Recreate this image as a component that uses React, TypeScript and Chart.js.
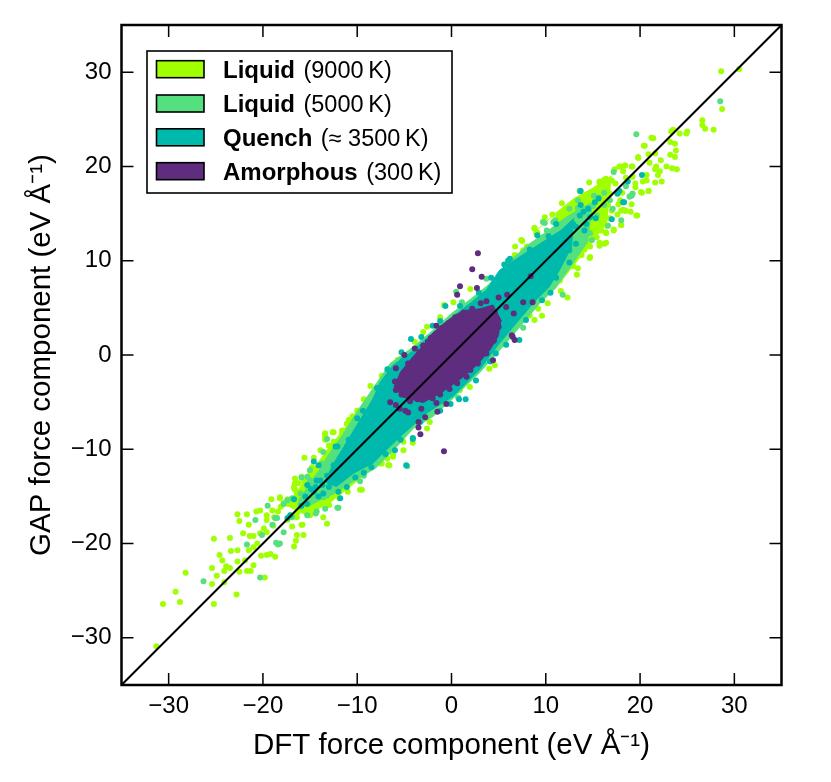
import { useEffect, useRef } from "react";
import { Chart, registerables } from "chart.js";

Chart.register(...registerables);

type P = [number, number];

const FONT = "'Liberation Sans', Arial, sans-serif";
const tickValues = [-30, -20, -10, 0, 10, 20, 30];
const xLabel = "DFT force component (eV Å⁻¹)";
const yLabel = "GAP force component (eV Å⁻¹)";
const legendBold = ["Liquid", "Liquid", "Quench", "Amorphous"];
const legendRest = ["(9000\u2009K)", "(5000\u2009K)", "(≈ 3500\u2009K)", "(300\u2009K)"];
const colors = ["#A0FF00", "#54E07F", "#00B9AD", "#5F2D7F"];

const diagonal: P[] = [[-35, -35], [35, 35]];

const limePoints: P[] = [
  [-31.3,-30.9],[-30.6,-26.4],[-29.26,-25.1],[-28.8,-26.2],[-28.2,-23.1],[-25.2,-26.4],[-25.2,-19.5],[-25.4,-22.6],[-25.4,-24.3],[-24.9,-23.4],
  [-24.6,-21.2],[-24.3,-21.8],[-24.1,-24.1],[-24.1,-22.9],[-23.9,-22.4],[-23.5,-22.6],[-23.4,-20.8],[-23.5,-19.4],[-22.8,-25.4],[-22.7,-16.9],
  [-22.7,-20.7],[-22.7,-21.9],[-22.5,-23],[-22.5,-17.6],[-22.1,-18.9],[-21.9,-21.8],[-21.7,-16.9],[-21.5,-18],[-21.7,-22.9],[-21.3,-22.9],
  [-21.4,-19.2],[-21,-19.2],[-20.7,-16.6],[-20.3,-16.5],[-21,-22.3],[-21.5,-20.7],[-21,-20.4],[-20.2,-21.3],[-19.6,-21.2],[-19.2,-21.1],
  [-18.7,-21.4],[-19.8,-23.6],[-19.9,-18.4],[-19.6,-18.8],[-19.6,-17],[-19.6,-17.5],[-19,-16.5],[-19.1,-15.3],[-18.8,-17.2],[-18.2,-15.1],
  [-17.8,-15.7],[-16.7,-20.3],[-16.5,-19.7],[-16.4,-19.1],[-15.7,-19.1],[-15.6,-10.9],[-18.9,-18.1],[-18.4,-16.6],[-20.3,-18.9],[-20.6,-20],
  [-13.4,-8.3],[-12.5,-8.2],[-11.1,-7.3],[-10,-5.9],[-13.9,-10.1],[-14.8,-11.9],[-16.6,-13.1],[-16.7,-14],[-16.2,-14.7],[-13.4,-8.7],
  [-12.5,-9.2],[-11.6,-8.3],[-9.7,-14.3],[-6.7,-11.7],[-7.5,-11.5],[-5.1,-10.1],[-6.2,-10.8],[-13.2,-17.9],[-13.6,-17.2],[-13,-15.9],
  [-15,-17],[-15.8,-18],[-16.9,-18.2],[-14.3,-16.1],[-17.4,-17.5],[-17.1,-17],[-18.1,-16.1],[-16.4,-16.8],[-15.3,-15.4],[-15.9,-12.9],
  [-15,-12.4],[-14.3,-12.2],[-16.6,-14.3],[-17.3,-15.8],[-16.2,-13.6],[-15.6,-13.4],[-14.6,-10.9],[-13,-9.6],[-10.5,-6.5],[-9.3,-4.7],
  [-8.6,-3.3],[-7.4,-2.2],[-6.4,-1.8],[-5.7,-0.5],[-3.9,1.4],[-3,2.45],[-2.6,3],[-1.2,4],[-0.8,5.3],[0.2,5.6],[2,7],
  [6.75,11.5],[6.7,10.6],[7.6,11.1],[7.5,12.1],[8.8,13.5],[9.1,13],[11.7,16.1],[9.6,4.15],[9.2,4.9],[10.2,5.5],[12.3,6.1],[11.6,6.8],
  [13.3,8.5],[13.4,9.2],[12.9,9.4],[14.65,10.3],[16.2,11.8],[14.7,11.5],[15.7,11.9],[17.2,13.2],[18,13.8],[19.6,14.8],[18.4,15.3],[16.4,13],
  [4.6,-1.1],[4,-1.45],[1.95,-3.4],[0.9,-3.7],[-2.3,-7.1],[-2.6,-7.8],[8.8,3.7],[8.3,4.2],[11.5,7.9],[14.6,18.3],[13.6,17.4],[15.1,16.9],
  [15.7,18.4],[15.5,17.4],[28.6,30.1],[30.5,30.3],[28.7,26.1],[26.6,24.9],[26.6,24.4],[26.9,24],[27.8,23.9],[25,23.7],[24.9,23.5],[24.2,23.5],
  [23.5,23.9],[23.3,23.7],[21.2,23.05],[21.4,23],[20.5,22.2],[23.2,22.6],[23.7,22.4],[23.8,21.7],[23.2,21.25],[23.7,21],[21.6,21.4],[20.9,21.3],
  [19.8,21],[21,20.4],[22.2,20.65],[21.7,20],[21.6,19.7],[22.1,19.5],[21.9,19.1],[22.8,20],[23.4,19.8],[23.9,19.7],[22.3,18.4],[21.6,18.3],
  [20.9,17.4],[20.2,17.2],[20.7,18.5],[20.3,18.4],[19.5,18.2],[19.2,18.9],[19.1,20],[18.4,20.1],[17.8,20],[17.3,19.7],[18.2,19.5],[16.9,18.5],
  [16.2,18.6],[15.7,18.3],[19.1,16],[18.2,15.4],[19.5,17.8],[18.5,18.8],[20.7,19.1],[17.4,18.2],[18.1,17.2],[16.8,17.1],[17,15.3],[17.9,16.4],
  [16.4,16.2],[16.8,14.5],[15.6,15],[17.6,14.9],[19,15.2],[14.6,16.8],[12.8,15.3],[14.3,12.2],[15.2,13.4],[13.8,10.6],[-9.8,-11.9],[-4.1,-9.3],
  [20.4,22.2],[19.8,20.9],[19.2,20],[18.4,20.1],[17.9,20],[15.8,18.3],[16.4,18.7],[17,18.5],[15.5,17.3],[16.2,17.5],[14.3,16.6],[14,16],
  [16.6,15.9],[17.7,16],[19.2,17.1],[20.1,17.3],[20.9,17.4],[18,15.3],[18.5,15.3],[19.7,14.8],[18,13.8],[17.2,13.3],[16.5,13.7],[16.4,12.9],
  [16.4,11.9],[15.7,11.6],[14.7,10.4],[8.8,13.4],[9,12.9],[7.4,12.2],[8,11.5],[15.7,14.6],[15.4,12.5],[14.8,13.6],[15.9,13.2],[14.1,11.2],
  [13.3,11.1],[12.4,10],[11.2,9.2],[10.1,7.8],[13,14.6],[12,15],[10.7,14.9],[9.9,14.6],[11.1,13.9],
  [-10.9,-6.9],[-11.6,-8],[-12.6,-8.2],[-13.4,-8.4],[-13.4,-9],[-12.9,-11.5],[-16.6,-13.6],[-16.7,-14.1],[-16.4,-14.7],[-18.2,-15.2],
  [-17.4,-15.3],[-9.5,-14.3],[-7.4,-11.5],[-6.6,-11.7],[-6.8,-11],[-6.2,-10.6],[-5.1,-9.2],[-13,-15.9],[-15,-16.8],[-15.9,-18],[-16.4,-17.2],
  [-14.4,-15.4],[-15.1,-14.5],[-14.1,-13.1],[-13.7,-12.3],[-12.6,-12.9],[-11.9,-15.2],[-11,-14.5],[-12.3,-13.8],
];

const greenPoints: P[] = [
  [-26.3,-24],[-20.3,-23.6],[-21.7,-20.1],[-20.8,-17.5],[-18.6,-19.9],[-18.4,-20.1],[-18.2,-20],[-19.5,-16],[-20.1,-19.1],[-18.7,-17.3],
  [-19,-18],[-17.8,-18.8],[-4.7,-11.8],[-12.1,-16.2],[-13.2,-14.9],[-14.3,-16.6],[-16,-15.8],[-17.4,-15.4],[-17.8,-15.8],[-13.2,-8.9],
  [-15.3,-12.9],[-13.7,-11.5],[-13.9,-14.9],[-15.3,-17],[-9.2,-5.9],[-15.9,-15.4],[-16.9,-17.2],[-18.5,-17.3],[11.8,6.4],[9.7,14.1],
  [3.7,8.1],[0.5,6.7],[1.1,5.6],[7.6,2.9],[5.5,1.2],[0.7,-4.5],[19.1,16.9],[18,14.3],[10.8,14.1],[28.5,26.9],[19.6,23.4],[17.2,19.4],
  [19.2,17.1],[18.9,16.8],[18.5,17.9],[16.2,17.2],[16.8,16.4],[16.2,15.9],[13.4,16.4],[15.6,16.7],[17.1,15.5],[16.6,13.7],[14.9,12.2],
  [13.6,17.4],[15.1,16.9],[12.5,15.5],[11,14.3],[9.9,14],[10.1,13.2],[11.1,13.1],[13.4,15.6],[18.9,16.8],[14.7,12.9],[14.1,12.5],[12.9,13.2],
  [12.4,13.6],[15.4,14.8],[13.9,13.4],[13.6,11.6],[9.7,12.5],[8.3,11.1],[14.3,15],[15,15.8],
  [-13.4,-16.3],[-12,-16.2],[-9.7,-13.4],[-10.6,-12.4],[-11.8,-13.8],[-13.6,-10.3],[-13.9,-11.7],[-15,-12.2],[-15.9,-13],[-15,-13.3],[-16,-14.7],
  [-16.9,-15.2],[-14.4,-16.8],[-13.6,-15.1],[-11.4,-13.3],[-10.2,-7.3],[-12.3,-10.1],[-13.2,-12.4],[-10.6,-11.9],[-9.3,-12.8],[-7.9,-10.6],[-7.2,-10.1],[-16,-16.1],
];

const tealPoints: P[] = [
  [-11.8,-15.2],[-14.6,-11.3],[-4.1,-8.9],[-16.7,-15.3],[-17.4,-17.3],[-17.1,-17],[-15.3,-15.8],[-14.1,-15],[-13.9,-13.3],[-12.1,-9.7],
  [-6,-10.1],[-7.6,-7.3],[-10,-6.7],[-0.65,5.2],[9.1,12.7],[6.2,10.2],[5.6,9.6],[17,14.4],[18.3,16.2],[13.7,17.4],[13.7,15.9],[14.5,15.5],
  [15.3,14.5],[13.2,13.6],[10.5,6.6],[12.5,9.8],[7.2,1.6],[4.7,0.15],[1.5,-4.7],[-0.1,-5.2],[-4.3,1.7],[-2,3.1],[-5.2,-0.6],[-4.1,-8.8],
  [20.2,19.1],[18.7,18.4],[17.8,17.4],[18.2,16.2],[17.6,17.1],[15.2,16.2],[14.7,14.6],[14.1,13.2],[-14.9,-14.2],[-15.9,-16],
  [15.6,16.6],[13.6,14.8],[11.1,13.9],[14,15.2],[12.9,13.9],[12.5,13.2],[14.3,13.9],[10.8,11.8],[11.8,12],[12.5,11.1],[13.2,11.8],[10.2,11.3],[9.4,10.8],
  [-14.1,-11.7],[-13,-14],[-15.3,-13.8],[-15.5,-15],[-14.4,-14],[-13.7,-13.8],[-12.5,-11.7],[-11.8,-11],[-10.9,-9],[-12.3,-9.7],[-4.8,-11.7],[-9.3,-12.5],
  [-11.1,-14],[-12,-14.5],[-14.6,-14.5],[-14.3,-13.3],[-13.2,-12.8],[-13.6,-14.7],[-11.2,-12.6],[-10.2,-13],[-8.5,-11.9],[-7,-10.5],[-5.4,-9],[-3.3,-7.1],
  [-1.2,-5.9],[0.8,-4.7],[2.6,-2.7],[4.1,-0.7],[5.8,1.1],[7.9,3.7],[9.6,5.8],[11.1,8.2],[-9.4,-5.9],[-7.9,-3.5],[-6.8,-1.5],[-5.3,0.3],[-3.2,1.9],[-1.2,3.6],
  [0.9,5.2],[2.9,6.6],[4.2,8.2],[6,10],[8.3,11.2],[10.3,12.6],
];

const purplePoints: P[] = [
  [2.8,10.8],[2.2,9.1],[3.2,8.3],[0.9,7.3],[0.6,6.4],[2.7,7.1],[8.4,8.35],[5,6.1],[3.7,5.7],[3.1,5.5],[5.9,6.4],[5.8,5.1],[7.6,5.6],[8.6,5.6],
  [6.6,4.4],[6.5,1.9],[6.7,1.6],[6.4,2.1],[-1.6,3.1],[-5,0],[-5.9,-1.4],[-2.5,1.4],[4.4,-0.55],[-3.5,-7.7],[-3.3,-8.4],[-6.5,-5],[-5.9,-5.3],
  [-5.5,-5.7],[-4.6,-6.1],[-1.5,-6.03],[-0.55,-5.2],[-1.6,-5.1],[-3.2,-5.7],[1.6,-2.3],[3.7,0.15],[-0.8,-10.2],[-2.8,-6.6],[-4.9,-5.9],[-3.5,-7.1],
  [-3.9,0.7],[-3,1],[-1,2.9],[0.4,4],[2.2,4.9],[3.8,0.9],[2.8,-0.9],[0.6,-3],[-2,-4.6],[-4.4,-4.9],[-5.9,-3.7],[-6,-2.8],
  [-4.6,-0.9],[-3.4,0.3],[-2.2,1.8],[-0.3,3.2],[1.3,4.5],[3.2,4.6],[4.6,4.5],[5,3],[4.5,1.5],[2,-1.6],[-0.2,-3.6],[-1.2,-4.2],[-3.6,-4.7],[-5.3,-4.2],
];

const purpleUpper: P[] = [[-6.1,-3.4],[-5.4,-1.8],[-4.1,-0.2],[-3,1],[-2,2.3],[-0.5,3.6],[1.2,4.7],[3,4.9],[4.4,5.3],[5.3,3.6]];
const purpleLower: P[] = [[-6.1,-3.4],[-5.2,-4.5],[-3,-5.1],[-1,-4],[1.2,-2.4],[2.8,-1],[4.1,0.5],[5,2],[5.3,3.6]];

const tealUpper: P[] = [[-13.5,-13.5],[-12.5,-11.5],[-11.1,-9.2],[-9.7,-6.9],[-8.3,-4.6],[-7.57,-2.9],[-6.2,-1.1],[-4,0.5],[-2.3,2.1],[0,4],[2,5.5],[3.7,6.9],[5.1,9],[7.2,10.4],[9.4,11.8],[10.8,12.7],[11.6,13.2],[13,14.5]];
const tealLower: P[] = [[-13.5,-13.5],[-12.2,-14],[-10.4,-12.6],[-8.3,-11.5],[-6.9,-10.1],[-5.1,-8.4],[-2.6,-6.2],[0.2,-4.4],[3,-1.6],[5.1,1.2],[7.2,3.7],[9,5.8],[10.4,7.2],[11.5,9],[12.8,11.5],[13,14.5]];

const greenUpper: P[] = [[-16,-15.2],[-15,-13.5],[-14,-12.2],[-13,-10.5],[-11.5,-8.4],[-10,-6],[-8.5,-3.8],[-6.5,-0.9],[-4,0.9],[-2,2.6],[0,4.4],[2,5.9],[4,7.5],[6,9.8],[8,11.6],[10,13],[12,14.5],[13.4,15.4],[15,16.2]];
const greenLower: P[] = [[-16,-15.2],[-15,-16],[-13.5,-15.2],[-12.5,-14.8],[-10,-13.2],[-8,-12],[-6,-10],[-4,-7.8],[-2,-6.6],[0,-4.8],[3,-1.9],[5.5,0.9],[7.5,3.2],[9.5,5.6],[11,7],[13,9.8],[14.5,12],[15,16.2]];

const limeUpper: P[] = [[-17.5,-16],[-15,-12.6],[-13,-9.8],[-11,-7.4],[-9,-4.6],[9,13.2],[11,15],[13,16.6],[15,17.7],[17,19]];
const limeLower: P[] = [[-17.5,-16],[-15.5,-17],[-13,-15.8],[-10,-13.4],[-7,-11],[11,7],[13,9.5],[15,12],[16.5,14],[17,19]];

const xy = (ps: P[]) => ps.map(([x, y]) => ({ x, y }));

const scatter = (data: P[], color: string) => ({
  data: xy(data),
  showLine: false,
  pointRadius: 3,
  pointHoverRadius: 3,
  pointBorderWidth: 0,
  pointBackgroundColor: color,
});
const band = (data: P[], color: string, fill: string | boolean) => ({
  data: xy(data),
  showLine: true,
  tension: 0,
  pointRadius: 0,
  borderWidth: 1,
  borderColor: fill ? color : "rgba(0,0,0,0)",
  backgroundColor: color,
  fill,
});

const frame = {
  id: "frame",
  afterDraw(chart: any) {
    const { ctx, chartArea: a, scales } = chart;
    ctx.save();
    ctx.strokeStyle = "#000";
    ctx.lineWidth = 1.5;
    ctx.beginPath();
    for (const v of tickValues) {
      const px = scales.x.getPixelForValue(v);
      const py = scales.y.getPixelForValue(v);
      ctx.moveTo(px, a.bottom);
      ctx.lineTo(px, a.bottom - 12);
      ctx.moveTo(px, a.top);
      ctx.lineTo(px, a.top + 12);
      ctx.moveTo(a.left, py);
      ctx.lineTo(a.left + 12, py);
      ctx.moveTo(a.right, py);
      ctx.lineTo(a.right - 12, py);
    }
    ctx.stroke();
    ctx.lineWidth = 2.5;
    ctx.strokeRect(a.left, a.top, a.right - a.left, a.bottom - a.top);

    // legend
    ctx.fillStyle = "#fff";
    ctx.lineWidth = 1.6;
    ctx.fillRect(147, 51, 305, 142);
    ctx.strokeRect(147, 51, 305, 142);
    const tops = [60.7, 95, 128.8, 162.7];
    const bases = [77.5, 111.5, 145.5, 179.5];
    ctx.textBaseline = "alphabetic";
    ctx.textAlign = "left";
    for (let i = 0; i < 4; i++) {
      ctx.fillStyle = colors[i];
      ctx.fillRect(156.5, tops[i], 47.5, 17);
      ctx.strokeRect(156.5, tops[i], 47.5, 17);
      ctx.fillStyle = "#000";
      ctx.font = `bold 24px ${FONT}`;
      ctx.fillText(legendBold[i], 223, bases[i]);
      const w = ctx.measureText(legendBold[i]).width;
      ctx.font = `23.5px ${FONT}`;
      ctx.fillText(legendRest[i], 223 + w + 8.5, bases[i]);
    }
    ctx.restore();
  },
};

export default function App() {
  const ref = useRef<HTMLCanvasElement>(null);
  useEffect(() => {
    const chart = new Chart(ref.current!, {
      type: "scatter",
      data: {
        datasets: [
          { data: xy(diagonal), showLine: true, borderColor: "#000", borderWidth: 2, pointRadius: 0, tension: 0 },
          scatter(purplePoints, colors[3]),
          band(purpleUpper, colors[3], "+1"),
          band(purpleLower, colors[3], false),
          scatter(tealPoints, colors[2]),
          band(tealUpper, colors[2], "+1"),
          band(tealLower, colors[2], false),
          scatter(greenPoints, colors[1]),
          band(greenUpper, colors[1], "+1"),
          band(greenLower, colors[1], false),
          scatter(limePoints, colors[0]),
          band(limeUpper.slice(0, 5), colors[0], "+1"),
          band(limeLower.slice(0, 5), colors[0], false),
          band(limeUpper.slice(5), colors[0], "+1"),
          band(limeLower.slice(5), colors[0], false),
        ] as any,
      },
      plugins: [frame],
      options: {
        animation: false,
        responsive: false,
        layout: { padding: { top: 25, right: 49.5, left: 0, bottom: 0 } },
        plugins: { legend: { display: false }, tooltip: { enabled: false } },
        scales: {
          x: {
            type: "linear",
            min: -35,
            max: 35,
            afterFit: (s: any) => { s.height = 97; },
            afterBuildTicks: (s: any) => { s.ticks = tickValues.map((value) => ({ value })); },
            grid: { display: false, drawTicks: false },
            border: { display: false },
            ticks: {
              maxRotation: 0,
              autoSkip: false,
              padding: 7,
              color: "#000",
              font: { family: FONT, size: 24 },
              callback: (v: any) => String(v).replace("-", "−"),
            },
            title: { display: true, text: xLabel, color: "#000", font: { family: FONT, size: 29.5 }, padding: { top: 0, bottom: 18 } },
          },
          y: {
            type: "linear",
            min: -35,
            max: 35,
            afterFit: (s: any) => { s.width = 121.5; },
            afterBuildTicks: (s: any) => { s.ticks = tickValues.map((value) => ({ value })); },
            grid: { display: false, drawTicks: false },
            border: { display: false },
            ticks: {
              autoSkip: false,
              padding: 10,
              color: "#000",
              font: { family: FONT, size: 24 },
              callback: (v: any) => String(v).replace("-", "−"),
            },
            title: { display: true, text: yLabel, color: "#000", font: { family: FONT, size: 29.5 }, padding: { top: 24, bottom: 0 } },
          },
        },
      },
    } as any);
    return () => chart.destroy();
  }, []);
  return (
    <div style={{ position: "absolute", left: 0, top: 0, width: 831, height: 782, background: "#fff" }}>
      <canvas ref={ref} width={831} height={782} style={{ display: "block", width: 831, height: 782 }} />
    </div>
  );
}
